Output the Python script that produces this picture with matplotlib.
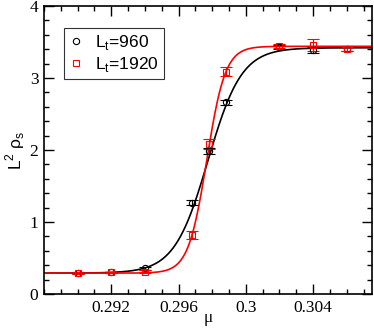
import numpy as np
import matplotlib.pyplot as plt
from matplotlib.ticker import MultipleLocator

# ---- data ----
mu_960 = [0.290, 0.292, 0.294, 0.2968, 0.2978, 0.2988, 0.302, 0.304, 0.306]
rho_960 = [0.29, 0.30, 0.36, 1.27, 1.99, 2.66, 3.43, 3.39, 3.40]
err_960 = [0.01, 0.01, 0.02, 0.03, 0.04, 0.04, 0.03, 0.04, 0.03]

mu_1920 = [0.290, 0.292, 0.294, 0.2968, 0.2978, 0.2988, 0.302, 0.304, 0.306]
rho_1920 = [0.29, 0.30, 0.31, 0.82, 2.08, 3.09, 3.44, 3.46, 3.40]
err_1920 = [0.01, 0.01, 0.02, 0.05, 0.07, 0.06, 0.03, 0.08, 0.03]

# fit parameters (low, high, centre, width) of the drawn curves
fit_960 = (0.29, 3.42, 0.29775, 0.0010)
fit_1920 = (0.29, 3.44, 0.29768, 0.00055)

mu_fit = np.linspace(0.288, 0.3075, 400)


def fit_curve(p, x):
    lo, hi, c, w = p
    return lo + (hi - lo) / (1 + np.exp(-(x - c) / w))


plt.rcParams['font.family'] = ['Liberation Serif', 'DejaVu Serif']

fig = plt.figure(figsize=(3.74, 3.28), dpi=100)
ax = fig.add_axes([0.1176, 0.1037, 0.8771, 0.878])

ax.plot(mu_fit, fit_curve(fit_960, mu_fit), color='black', lw=1.2, zorder=2)
ax.plot(mu_fit, fit_curve(fit_1920, mu_fit), color='red', lw=1.2, zorder=2)

eb1 = ax.errorbar(mu_960, rho_960, yerr=err_960, fmt='o', ms=4.5, mfc='none', mec='black',
                  mew=0.8, ecolor='black', elinewidth=0.8, capsize=4.5, capthick=0.8, zorder=3)
eb2 = ax.errorbar(mu_1920, rho_1920, yerr=err_1920, fmt='s', ms=4.2, mfc='none', mec='red',
                  mew=0.8, ecolor='red', elinewidth=0.8, capsize=4.5, capthick=0.8, zorder=3)

ax.set_xlim(0.288, 0.3075)
ax.set_ylim(0, 4)
ax.xaxis.set_minor_locator(MultipleLocator(0.001))
ax.yaxis.set_major_locator(MultipleLocator(1))
ax.yaxis.set_minor_locator(MultipleLocator(0.2))
ax.set_xticks([0.292, 0.296, 0.3, 0.304])
ax.set_xticklabels(['0.292', '0.296', '0.3', '0.304'])
ax.tick_params(which='both', direction='in', top=True, right=True, labelsize=12.5, pad=4)
ax.tick_params(which='major', length=7, width=1)
ax.tick_params(which='minor', length=3.5, width=1)
for s in ax.spines.values():
    s.set_linewidth(1.2)

ax.set_xlabel('μ', fontsize=12.5, labelpad=-4)
ax.set_ylabel(r'L$^\mathregular{2}$ ρ$_\mathregular{s}$', fontsize=12.5,
              family=['Liberation Sans', 'DejaVu Sans'], labelpad=2)

leg = ax.legend(handles=[eb1.lines[0], eb2.lines[0]],
                labels=[r'L$_\mathregular{t}$=960', r'L$_\mathregular{t}$=1920'],
                loc='upper left', bbox_to_anchor=(0.06, 0.925),
                prop={'family': 'Liberation Sans', 'size': 12.5},
                frameon=True, fancybox=False, edgecolor='black', handlelength=0.8,
                handletextpad=0.7, borderpad=0.3, labelspacing=0.2, borderaxespad=0)
leg.get_frame().set_linewidth(0.8)

fig.savefig('out.png', dpi=100)
